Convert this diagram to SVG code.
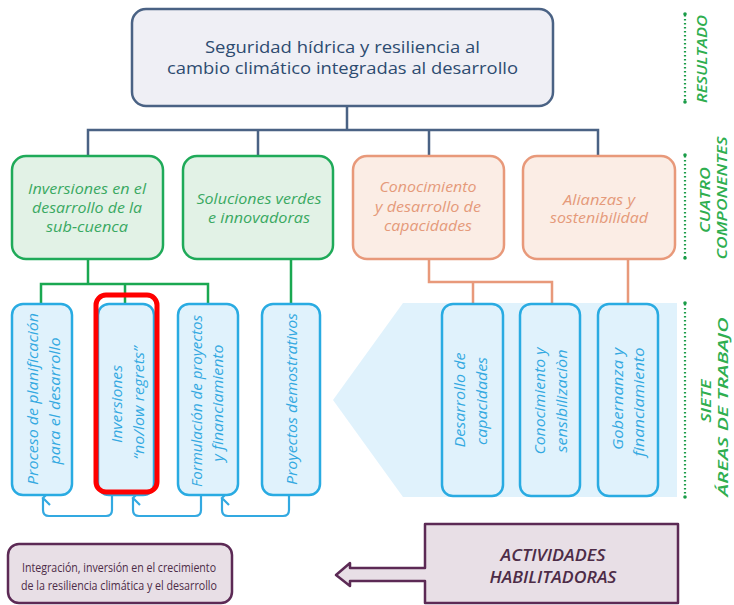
<svg xmlns="http://www.w3.org/2000/svg" width="734" height="605" viewBox="0 0 734 605">
<style>
.t{font-family:"Open Sans","DejaVu Sans",sans-serif}
.top{fill:#2d4b70;font-size:17px}
.cg{fill:#3aa962;font-size:14.5px;font-style:italic}
.co{fill:#e59a7a;font-size:14.5px;font-style:italic}
.wb{fill:#33a9e1;font-size:14px;font-style:italic}
.lab{fill:#2fae4f;font-size:14px;font-style:italic;font-weight:600}
.pur{fill:#4d2c47}
.cb{fill:none;stroke:#4a6284;stroke-width:2.5}
.gl{fill:none;stroke:#1aa851;stroke-width:2.5}
.ol{fill:none;stroke:#e8997a;stroke-width:2.5}
.bl{fill:none;stroke:#33a9e1;stroke-width:2.2;stroke-linejoin:round}
.gbox{fill:#e2f2e6;stroke:#1faa59;stroke-width:2.5}
.obox{fill:#fbede5;stroke:#e8997a;stroke-width:2.5}
.wbox{fill:#e0f2fc;stroke:#29abe2;stroke-width:2.5}
.dot{stroke:#1a9c48;stroke-width:2.2;stroke-dasharray:1.4 2.6;fill:none}
</style>
<defs>
<marker id="ah" viewBox="0 0 16 10" refX="8" refY="2" markerWidth="16" markerHeight="10" markerUnits="userSpaceOnUse" orient="auto-start-reverse">
<path d="M1,9 L8,2 L15,9" fill="none" stroke="#33a9e1" stroke-width="2.2"/>
</marker>
</defs>

<!-- chevron background -->
<polygon points="403,303 677,303 677,497 403,497 333,400" fill="#e0f2fc"/>

<g id="connectors">
<path class="cb" d="M347,106 V130 M88,156 V130 H598 V156 M258,130 V156 M429,130 V156"/>
<path class="gl" d="M88,259 V284 M41,305 V284 H208 V305 M125,284 V305 M291,259 V305"/>
<path class="ol" d="M429,259 V282 H552 V305 M473,282 V305 M628,259 V305"/>
<path class="bl" marker-end="url(#ah)" d="M112,496 V510 Q112,516 106,516 H49 Q43,516 43,510 V498"/>
<path class="bl" marker-end="url(#ah)" d="M201,496 V510 Q201,516 195,516 H139 Q133,516 133,510 V498"/>
<path class="bl" marker-end="url(#ah)" d="M289,496 V510 Q289,516 283,516 H228 Q222,516 222,510 V498"/>
</g>

<g id="resultado">
<rect x="132" y="9" width="421" height="97" rx="14" fill="#efeff5" stroke="#4a6284" stroke-width="2.5"/>
<text class="t top" x="342.5" y="53" text-anchor="middle" textLength="275" lengthAdjust="spacingAndGlyphs">Seguridad hídrica y resiliencia al</text>
<text class="t top" x="342.5" y="74" text-anchor="middle" textLength="351" lengthAdjust="spacingAndGlyphs">cambio climático integradas al desarrollo</text>
</g>

<g id="comp1">
<rect class="gbox" x="12" y="156" width="151" height="103" rx="14"/>
<text class="t cg" x="87" y="194" text-anchor="middle" textLength="118" lengthAdjust="spacingAndGlyphs">Inversiones en el</text>
<text class="t cg" x="87" y="213" text-anchor="middle" textLength="110" lengthAdjust="spacingAndGlyphs">desarrollo de la</text>
<text class="t cg" x="87" y="232" text-anchor="middle" textLength="82" lengthAdjust="spacingAndGlyphs">sub-cuenca</text>
</g>
<g id="comp2">
<rect class="gbox" x="183" y="156" width="150" height="103" rx="14"/>
<text class="t cg" x="259" y="204" text-anchor="middle" textLength="125" lengthAdjust="spacingAndGlyphs">Soluciones verdes</text>
<text class="t cg" x="259" y="223" text-anchor="middle" textLength="102" lengthAdjust="spacingAndGlyphs">e innovadoras</text>
</g>
<g id="comp3">
<rect class="obox" x="353" y="156" width="151" height="103" rx="14"/>
<text class="t co" x="428" y="192" text-anchor="middle" textLength="97" lengthAdjust="spacingAndGlyphs">Conocimiento</text>
<text class="t co" x="428" y="212" text-anchor="middle" textLength="106" lengthAdjust="spacingAndGlyphs">y desarrollo de</text>
<text class="t co" x="428" y="231" text-anchor="middle" textLength="88" lengthAdjust="spacingAndGlyphs">capacidades</text>
</g>
<g id="comp4">
<rect class="obox" x="523" y="156" width="152" height="103" rx="14"/>
<text class="t co" x="599" y="205" text-anchor="middle" textLength="72" lengthAdjust="spacingAndGlyphs">Alianzas y</text>
<text class="t co" x="599" y="223" text-anchor="middle" textLength="98" lengthAdjust="spacingAndGlyphs">sostenibilidad</text>
</g>

<g id="area1">
<rect class="wbox" x="12" y="304" width="60" height="191" rx="11"/>
<text class="t wb" transform="translate(33,399) rotate(-90)" y="5" text-anchor="middle" textLength="172" lengthAdjust="spacingAndGlyphs">Proceso de planificación</text>
<text class="t wb" transform="translate(55,401) rotate(-90)" y="5" text-anchor="middle" textLength="127" lengthAdjust="spacingAndGlyphs">para el desarrollo</text>
</g>
<g id="area2">
<rect class="wbox" x="98" y="304" width="56" height="191" rx="11"/>
<text class="t wb" transform="translate(117,404) rotate(-90)" y="5" text-anchor="middle" textLength="78" lengthAdjust="spacingAndGlyphs">Inversiones</text>
<text class="t wb" transform="translate(139,403) rotate(-90)" y="5" text-anchor="middle" textLength="113" lengthAdjust="spacingAndGlyphs">“no/low regrets”</text>
</g>
<g id="area3">
<rect class="wbox" x="178" y="304" width="60" height="191" rx="11"/>
<text class="t wb" transform="translate(197,401) rotate(-90)" y="5" text-anchor="middle" textLength="172" lengthAdjust="spacingAndGlyphs">Formulación de proyectos</text>
<text class="t wb" transform="translate(218,403) rotate(-90)" y="5" text-anchor="middle" textLength="117" lengthAdjust="spacingAndGlyphs">y financiamiento</text>
</g>
<g id="area4">
<rect class="wbox" x="262" y="304" width="58" height="191" rx="11"/>
<text class="t wb" transform="translate(292,399) rotate(-90)" y="5" text-anchor="middle" textLength="172" lengthAdjust="spacingAndGlyphs">Proyectos demostrativos</text>
</g>
<g id="area5">
<rect class="wbox" x="442" y="304" width="61" height="192" rx="11"/>
<text class="t wb" transform="translate(460,400) rotate(-90)" y="5" text-anchor="middle" textLength="95" lengthAdjust="spacingAndGlyphs">Desarrollo de</text>
<text class="t wb" transform="translate(482,401) rotate(-90)" y="5" text-anchor="middle" textLength="88" lengthAdjust="spacingAndGlyphs">capacidades</text>
</g>
<g id="area6">
<rect class="wbox" x="520" y="304" width="60" height="192" rx="11"/>
<text class="t wb" transform="translate(540,401) rotate(-90)" y="5" text-anchor="middle" textLength="107" lengthAdjust="spacingAndGlyphs">Conocimiento y</text>
<text class="t wb" transform="translate(562,401) rotate(-90)" y="5" text-anchor="middle" textLength="103" lengthAdjust="spacingAndGlyphs">sensibilizaciòn</text>
</g>
<g id="area7">
<rect class="wbox" x="598" y="304" width="60" height="192" rx="11"/>
<text class="t wb" transform="translate(618,399) rotate(-90)" y="5" text-anchor="middle" textLength="102" lengthAdjust="spacingAndGlyphs">Gobernanza y</text>
<text class="t wb" transform="translate(639,402) rotate(-90)" y="5" text-anchor="middle" textLength="109" lengthAdjust="spacingAndGlyphs">financiamiento</text>
</g>

<!-- highlight -->
<rect x="96" y="295" width="61" height="197" rx="10" fill="none" stroke="#ff0000" stroke-width="5"/>

<g id="integracion">
<rect x="8" y="544" width="224" height="59" rx="11" fill="#e8dfe6" stroke="#5c2a55" stroke-width="2.5"/>
<text class="t pur" x="119" y="572" font-size="13" text-anchor="middle" textLength="194" lengthAdjust="spacingAndGlyphs">Integración, inversión en el crecimiento</text>
<text class="t pur" x="119" y="590" font-size="13" text-anchor="middle" textLength="196" lengthAdjust="spacingAndGlyphs">de la resiliencia climática y el desarrollo</text>
</g>
<g id="habilitadoras">
<path d="M425,524 H678 V603 H425 V581 H350 V586 L336,575 L350,563 V568 H425 Z" fill="#e8dfe6" stroke="#5c2a55" stroke-width="2.5" stroke-linejoin="round"/>
<text class="t pur" x="553" y="561" font-size="17" font-style="italic" font-weight="600" text-anchor="middle" textLength="105" lengthAdjust="spacingAndGlyphs">ACTIVIDADES</text>
<text class="t pur" x="553" y="583" font-size="17" font-style="italic" font-weight="600" text-anchor="middle" textLength="127" lengthAdjust="spacingAndGlyphs">HABILITADORAS</text>
</g>

<g id="labels">
<line class="dot" x1="685" y1="15" x2="685" y2="101"/>
<circle cx="685" cy="14" r="1.8" fill="#1a9c48"/><circle cx="685" cy="102" r="1.8" fill="#1a9c48"/>
<text class="t lab" transform="translate(702,59) rotate(-90)" y="5" text-anchor="middle" textLength="88" lengthAdjust="spacingAndGlyphs">RESULTADO</text>
<line class="dot" x1="685" y1="156" x2="685" y2="257"/>
<circle cx="685" cy="155" r="1.8" fill="#1a9c48"/><circle cx="685" cy="258" r="1.8" fill="#1a9c48"/>
<text class="t lab" transform="translate(705,200) rotate(-90)" y="5" text-anchor="middle" textLength="66" lengthAdjust="spacingAndGlyphs">CUATRO</text>
<text class="t lab" transform="translate(722,198) rotate(-90)" y="5" text-anchor="middle" textLength="123" lengthAdjust="spacingAndGlyphs">COMPONENTES</text>
<line class="dot" x1="685" y1="304" x2="685" y2="496"/>
<circle cx="685" cy="303" r="1.8" fill="#1a9c48"/><circle cx="685" cy="497" r="1.8" fill="#1a9c48"/>
<text class="t lab" transform="translate(706,401) rotate(-90)" y="5" text-anchor="middle" textLength="43" lengthAdjust="spacingAndGlyphs">SIETE</text>
<text class="t lab" transform="translate(723,407) rotate(-90)" y="5" text-anchor="middle" textLength="179" lengthAdjust="spacingAndGlyphs">ÁREAS DE TRABAJO</text>
</g>
</svg>
